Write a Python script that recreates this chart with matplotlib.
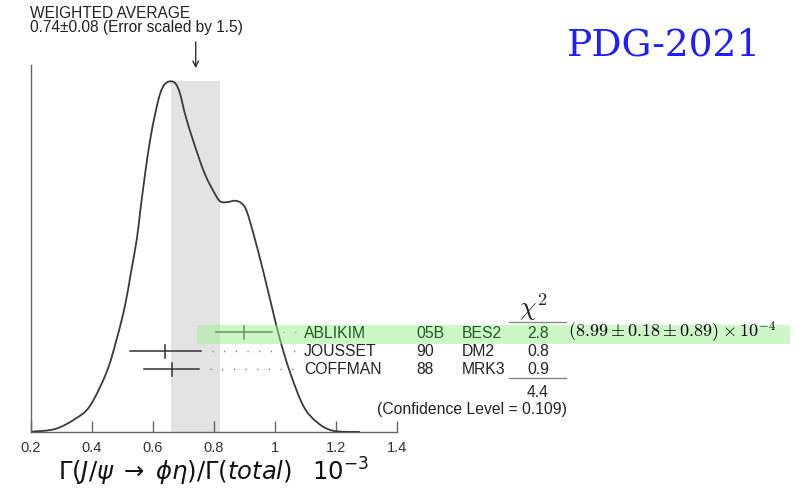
import matplotlib
matplotlib.use("Agg")
import matplotlib.pyplot as plt
import numpy as np
from matplotlib.patches import Rectangle, PathPatch
from matplotlib.path import Path

plt.rcParams['font.family'] = ['Liberation Sans', 'DejaVu Sans']

# ---- data ----
curve_x = [0.203, 0.279, 0.344, 0.393, 0.448, 0.481, 0.508, 0.528, 0.547, 0.557,
           0.574, 0.590, 0.607, 0.623, 0.639, 0.659, 0.675, 0.689, 0.705, 0.732,
           0.770, 0.809, 0.825, 0.846, 0.869, 0.889, 0.907, 0.934, 0.962, 0.989,
           1.016, 1.049, 1.093, 1.137, 1.190, 1.279]
curve_y = [0.3, 3, 13, 26, 60, 93, 126, 160, 193, 218,
           258, 291, 318, 338, 348, 350.7, 348, 338, 318, 291,
           258, 235, 230, 230, 231.3, 229, 221, 193, 160, 126,
           93, 60, 26, 10, 1.3, 0]

names = ['ABLIKIM', 'JOUSSET', 'COFFMAN']
years = ['05B', '90', '88']
experiments = ['BES2', 'DM2', 'MRK3']
values = [0.899, 0.640, 0.661]
errors = [0.091, 0.117, 0.090]
chi2 = ['2.8', '0.8', '0.9']
chi2_total = '4.4'
conf_level = '0.109'
avg_value = 0.74
avg_error = 0.08
xticks = [0.2, 0.4, 0.6, 0.8, 1.0, 1.2, 1.4]
xticklabels = ['0.2', '0.4', '0.6', '0.8', '1', '1.2', '1.4']


def smooth_path(xs, ys):
    """Catmull-Rom curve through the points, as cubic Bezier segments."""
    P = np.column_stack([xs, ys]).astype(float)
    n = len(P)
    verts = [P[0]]
    codes = [Path.MOVETO]
    for i in range(n - 1):
        p0 = P[i - 1] if i > 0 else P[i]
        p1 = P[i]
        p2 = P[i + 1]
        p3 = P[i + 2] if i + 2 < n else P[i + 1]
        c1 = p1 + (p2 - p0) / 6.0
        c2 = p2 - (p3 - p1) / 6.0
        verts += [c1, c2, p2]
        codes += [Path.CURVE4] * 3
    return Path(verts, codes)


# ---- figure ----
fig = plt.figure(figsize=(8.01, 4.89), dpi=100)
ax = fig.add_axes([31/801, 56/489, 366/801, 367/489])
ax.set_xlim(0.2, 1.4)
ax.set_ylim(0, 367)

axis_col = '#666666'
for s in ['top', 'right']:
    ax.spines[s].set_visible(False)
for s in ['left', 'bottom']:
    ax.spines[s].set_color(axis_col)
    ax.spines[s].set_linewidth(1.0)
ax.set_yticks([])
ax.set_xticks(xticks)
ax.set_xticklabels(xticklabels, fontsize=10.5, color='#333333')
ax.tick_params(axis='x', direction='in', length=8, width=1, color=axis_col, pad=6)

# weighted average band
peak = max(curve_y)
ax.add_patch(Rectangle((avg_value - avg_error, 0), 2 * avg_error, peak,
                       facecolor='#e3e3e3', edgecolor='none', zorder=1))

# ideogram curve
ax.add_patch(PathPatch(smooth_path(curve_x, curve_y), facecolor='none',
                       edgecolor='#3a3a3a', lw=1.3, zorder=3))

# highlight for the first measurement
row_y = [100, 81, 63]
ax.add_patch(Rectangle((0.744, 88), 2.688 - 0.744, 19, facecolor='#9cf090',
                       edgecolor='none', alpha=0.5, zorder=5, clip_on=False))

name_x = 1.095
year_x = 1.462
exp_x = 1.613
chi_x = 1.898
dots_end = 1.072
for i, (n, yr, ex, v, e, c) in enumerate(zip(names, years, experiments, values, errors, chi2)):
    y = row_y[i]
    ax.plot([v - e, v + e], [y, y], color='#333333', lw=1.1, zorder=4)
    ax.plot([v, v], [y - 6.5, y + 6.5], color='#333333', lw=1.1, zorder=4)
    ax.plot([v + e + 0.035, dots_end], [y, y], color='#666666', lw=1.0,
            linestyle=(0, (0.8, 7.6)), zorder=4, clip_on=False)
    col = '#1d5e1d' if i == 0 else '#222222'
    kw = dict(fontsize=11.3, color=col, va='center', zorder=6)
    ax.text(name_x, y, n, ha='left', **kw)
    ax.text(year_x, y, yr, ha='left', **kw)
    ax.text(exp_x, y, ex, ha='left', **kw)
    ax.text(chi_x, y, c, ha='right', **kw)

ax.text(1.961, row_y[0] + 0.5, r'$(8.99 \pm 0.18 \pm 0.89) \times 10^{-4}$',
        math_fontfamily='cm', fontsize=13, va='center', ha='left', color='#000000',
        zorder=6)

# chi2 header and sums
ax.text(1.846, 117, r'$\chi^2$', math_fontfamily='cm', fontsize=19,
        ha='center', va='baseline', color='#222222')
ax.plot([1.767, 1.954], [110, 110], color='#888888', lw=1.0, clip_on=False)
ax.plot([1.767, 1.954], [54, 54], color='#888888', lw=1.0, clip_on=False)
ax.text(chi_x, 40, chi2_total, fontsize=11.3, ha='right', va='center', color='#222222')
ax.text(1.646, 23, f'(Confidence Level = {conf_level})', fontsize=11.3,
        ha='center', va='center', color='#222222')

# weighted average annotation
ax.text(0.197, 420, 'WEIGHTED AVERAGE', fontsize=11.2, ha='left', va='center',
        color='#222222')
ax.text(0.197, 405.5, f'{avg_value:.2f}\u00b1{avg_error:.2f} (Error scaled by 1.5)',
        fontsize=11.2, ha='left', va='center', color='#222222')
ax.annotate('', xy=(avg_value, 361), xytext=(avg_value, 393),
            arrowprops=dict(arrowstyle='->', color='#333333', lw=1.0),
            annotation_clip=False)

ax.set_xlabel(r'$\Gamma(J/\psi\;\rightarrow\;\phi\eta)/\Gamma(\mathit{total})$   $10^{-3}$',
              fontsize=17.5, color='#111111', va='top')
ax.xaxis.set_label_coords(0.5, -(456 - 433) / 367)

fig.text(664/801, 1 - 45/489, 'PDG-2021', fontsize=27, family='DejaVu Serif',
         color='#1e1eff', ha='center', va='center')

fig.savefig('out.png', dpi=100)
